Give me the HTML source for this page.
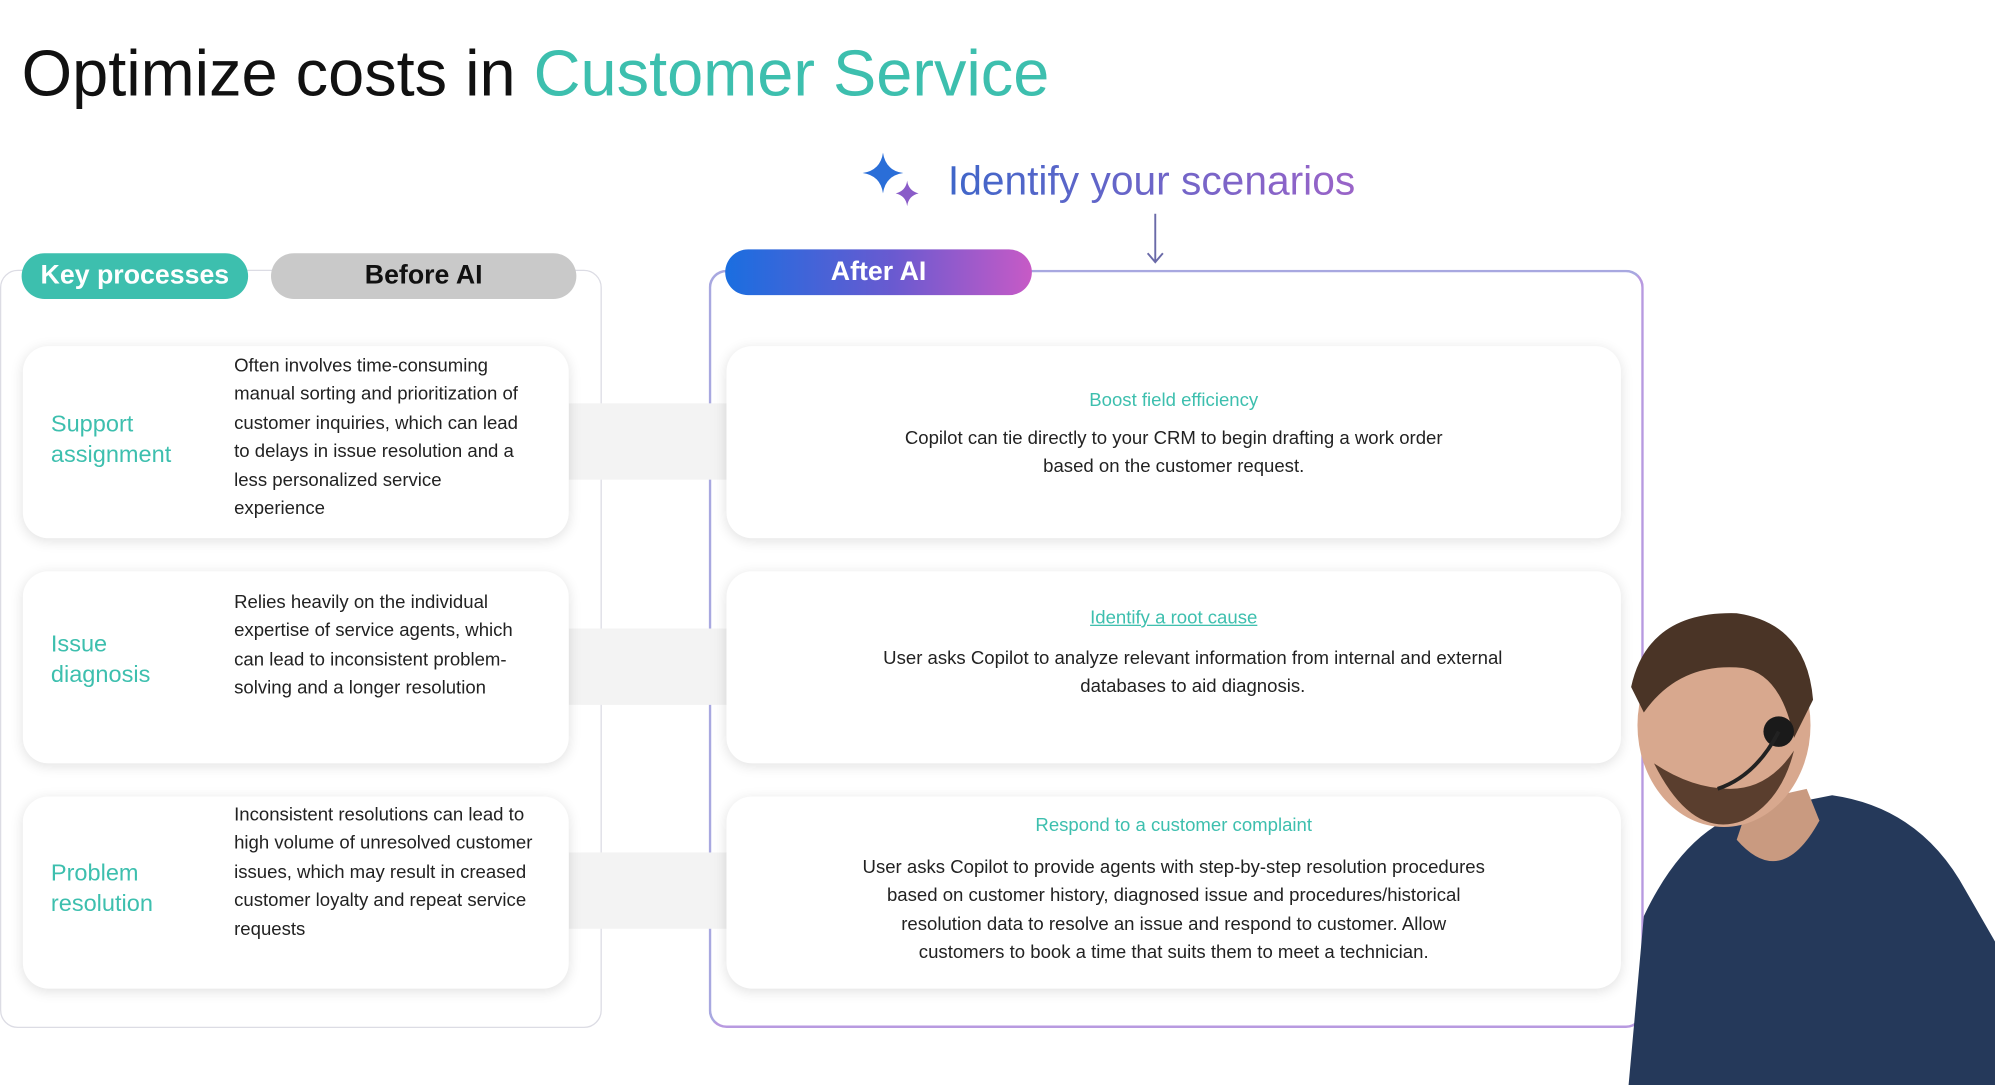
<!DOCTYPE html>
<html><head><meta charset="utf-8"><style>
html,body{margin:0;padding:0;background:#fff;overflow:hidden}
body{width:1995px;height:1085px}
#s{position:absolute;left:0;top:0;width:1568px;height:853px;transform:scale(1.27232);transform-origin:0 0;font-family:"Liberation Sans",sans-serif;color:#222}
.a{position:absolute}
.title{left:17px;top:28px;font-size:51px;color:#111;white-space:nowrap}
.pill{position:absolute;height:36px;border-radius:18px;font-weight:bold;font-size:21px;display:flex;align-items:center;justify-content:center}
.card{position:absolute;background:#fff;border-radius:20px;box-shadow:0 2px 10px rgba(0,0,0,0.12)}
.lab{position:absolute;left:22px;color:#3dbfae;font-size:18.5px;line-height:24px}
.desc{position:absolute;left:166px;font-size:14.6px;line-height:22.4px;color:#222;width:236px}
.band{position:absolute;left:447px;width:124px;height:60px;background:#f3f3f3}
.rt{position:absolute;left:0;right:0;text-align:center;font-size:14.6px;color:#3dbfae}
.rd{position:absolute;left:0;right:0;text-align:center;font-size:14.6px;line-height:22.4px;color:#222}
</style></head><body><div id="s">
<div class="a title">Optimize costs in <span style="color:#3dbfae">Customer Service</span></div>
<svg class="a" style="left:672px;top:118px" width="60" height="52" viewBox="0 0 60 52">
<path d="M22 2 Q24 16 38 18 Q24 20 22 34 Q20 20 6 18 Q20 16 22 2Z" fill="#2a6ed8"/>
<path d="M41 24 Q42 32 50 34 Q42 36 41 44 Q40 36 32 34 Q40 32 41 24Z" fill="#8a5cc8"/>
</svg>
<div class="a" style="left:745px;top:124px;font-size:32px;white-space:nowrap;background:linear-gradient(90deg,#3f66c9,#9a64c8);-webkit-background-clip:text;background-clip:text;color:transparent">Identify your scenarios</div>
<svg class="a" style="left:900px;top:166px" width="16" height="44"><path d="M8 2V40M2 33L8 40L14 33" stroke="#6a6aa8" stroke-width="1.5" fill="none"/></svg>

<div class="a" style="left:0;top:212px;width:473px;height:596px;border:1.5px solid #dcdce4;border-radius:14px;box-sizing:border-box"></div>
<div class="a" style="left:557px;top:212px;width:735px;height:596px;border:2px solid #a8a8e0;border-radius:14px;box-sizing:border-box;border-right-color:#b89ae0;border-bottom-color:#b89ae0"></div>

<div class="band" style="top:317px"></div>
<div class="band" style="top:494px"></div>
<div class="band" style="top:670px"></div>

<div class="pill" style="left:17px;top:199px;width:178px;background:#3dbfae;color:#fff">Key processes</div>
<div class="pill" style="left:213px;top:199px;width:240px;background:#c9c9c9;color:#111">Before AI</div>
<div class="pill" style="left:570px;top:196px;width:241px;background:linear-gradient(90deg,#1a6ee0,#6a5ad0 55%,#c75ac6);color:#fff">After AI</div>

<div class="card" style="left:18px;top:272px;width:429px;height:151px">
<div class="lab" style="top:49px">Support<br>assignment</div>
<div class="desc" style="top:5px">Often involves time-consuming manual sorting and prioritization of customer inquiries, which can lead to delays in issue resolution and a less personalized service experience</div></div>
<div class="card" style="left:18px;top:449px;width:429px;height:151px">
<div class="lab" style="top:45px">Issue<br>diagnosis</div>
<div class="desc" style="top:14px">Relies heavily on the individual expertise of service agents, which can lead to inconsistent problem-solving and a longer resolution</div></div>
<div class="card" style="left:18px;top:626px;width:429px;height:151px">
<div class="lab" style="top:48px">Problem<br>resolution</div>
<div class="desc" style="top:4px">Inconsistent resolutions can lead to high volume of unresolved customer issues, which may result in creased customer loyalty and repeat service requests</div></div>

<div class="card" style="left:571px;top:272px;width:703px;height:151px">
<div class="rt" style="top:35px">Boost field efficiency</div>
<div class="rd" style="top:62px">Copilot can tie directly to your CRM to begin drafting a work order<br>based on the customer request.</div></div>
<div class="card" style="left:571px;top:449px;width:703px;height:151px">
<div class="rt" style="top:29px;text-decoration:underline">Identify a root cause</div>
<div class="rd" style="top:58px;left:30px">User asks Copilot to analyze relevant information from internal and external<br>databases to aid diagnosis.</div></div>
<div class="card" style="left:571px;top:626px;width:703px;height:151px">
<div class="rt" style="top:15px">Respond to a customer complaint</div>
<div class="rd" style="top:45px">User asks Copilot to provide agents with step-by-step resolution procedures<br>based on customer history, diagnosed issue and procedures/historical<br>resolution data to resolve an issue and respond to customer. Allow<br>customers to book a time that suits them to meet a technician.</div></div>

<svg class="a" style="left:1270px;top:470px" width="298" height="383" viewBox="0 0 298 383">
<path d="M10 383 L22 250 Q60 170 120 165 L170 155 Q240 165 275 230 L298 270 L298 383Z" fill="#25395a"/>
<path d="M95 190 Q130 230 160 175 L150 150 L105 160Z" fill="#c99a80"/>
<ellipse cx="85" cy="100" rx="68" ry="80" fill="#d8a88e"/>
<path d="M12 70 Q25 10 95 12 Q150 20 155 80 L140 110 Q130 60 100 55 Q50 50 22 90Z" fill="#4a3426"/>
<path d="M30 130 Q60 190 100 175 Q130 160 140 120 Q120 150 90 150 Q60 150 30 130Z" fill="#5a3e2e"/>
<circle cx="128" cy="105" r="12" fill="#1a1a1a"/>
<path d="M128 105 Q110 140 80 150" stroke="#222" stroke-width="3" fill="none"/>
</svg>
</div></body></html>
